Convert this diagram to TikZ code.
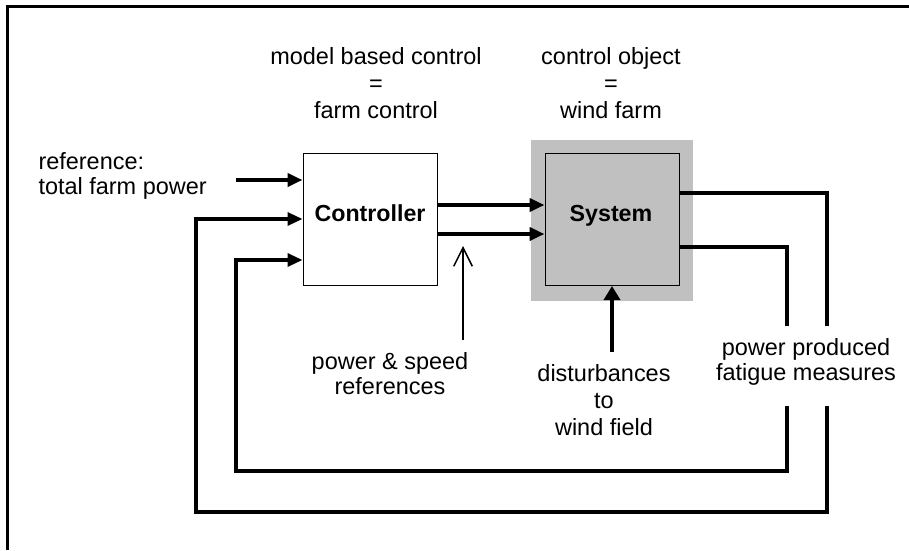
\documentclass[tikz,border=0pt]{standalone}
\usepackage{fontspec}
\setmainfont{Liberation Sans}
\usetikzlibrary{arrows.meta}

\definecolor{silver}{RGB}{192,192,192}

\tikzset{every picture/.style={line width=0.75pt}}
\tikzset{
  lbl/.style={inner sep=0pt, align=center, font=\fontsize{17.6pt}{18.75pt}\selectfont},
  toplbl/.style={lbl, font=\fontsize{17.6pt}{20.25pt}\selectfont},
  boldlbl/.style={inner sep=0pt, font=\fontsize{17.4pt}{18.75pt}\selectfont\bfseries},
  blockbox/.style={draw, minimum width=100.5pt, minimum height=99pt, inner sep=0pt},
  thickarrow/.style={line width=3pt, -{Triangle[length=11.25pt, width=9.75pt]}},
  fbline/.style={line width=2.4pt},
  fbarrow/.style={line width=2.4pt, -{Triangle[length=11.25pt, width=9.75pt]}},
  thinarrow/.style={line width=1.1pt, -{Straight Barb[length=14pt, width=14pt, line width=1.1pt]}}
}

\begin{document}
\begin{tikzpicture}[x=0.75pt,y=0.75pt,yscale=-1,xscale=1]
\useasboundingbox (0,0) rectangle (909,550);

%Frame
\draw [line width=2.25pt]  (7.5,550) -- (7.5,6.5) -- (909,6.5) ;

%Shape: Rectangle [background of system]
\node (sysbg) [fill=silver, minimum width=121.5pt, minimum height=120.75pt, inner sep=0pt] at (612,220.5) {};
%Shape: Rectangle
\node (ctrl) [blockbox, fill=white] at (370,219) {};
%Shape: Rectangle
\node (sys) [blockbox, fill=silver] at (612,219.5) {};

% Text Node
\node (ctrllbl) [boldlbl] at (370,213.6) {Controller};
% Text Node
\node (syslbl) [boldlbl] at (611,216.1) {System};
% Text Node
\node (mbc) [toplbl] at (376,82.7) {model based control\\=\\farm control};
% Text Node
\node (cobj) [toplbl] at (611,82.7) {control object\\=\\wind farm};
% Text Node
\node (refl) [lbl, anchor=west, align=left] at (38,175.6) {reference:\\total farm power};
% Text Node
\node (psr) [lbl] at (390,373.2) {power \& speed\\references};
% Text Node
\node (dst) [toplbl] at (604,399.7) {disturbances\\to\\wind field};
% Text Node
\node (meas) [lbl] at (806,361.6) {power produced\\fatigue measures};

\coordinate (refin) at (236,180);
\coordinate (ua) at (0,205);
\coordinate (ub) at (0,234);
\coordinate (ya) at (0,193);
\coordinate (yb) at (0,247);
\coordinate (fa1) at (827,326);
\coordinate (fa2) at (827,406);
\coordinate (fb1) at (787,326);
\coordinate (fb2) at (787,406);
\coordinate (la) at (196,512);
\coordinate (lb) at (236,471);
\coordinate (fbin) at (0,260);
\coordinate (dist) at (612,352);
\coordinate (pstail) at (463,340);
\coordinate (pstip) at (463,246);

%Straight Lines
\draw [thickarrow] (refin) -- (refin -| ctrl.west) ;
\draw [thickarrow] (ctrl.east |- ua) -- (sys.west |- ua) ;
\draw [thickarrow] (ctrl.east |- ub) -- (sys.west |- ub) ;
%Straight Lines
\draw [fbline] (sys.east |- ya) -| (fa1) ;
\draw [fbline] (sys.east |- yb) -| (fb1) ;
\draw [fbarrow] (fa2) |- (la) |- (ctrl.west) ;
\draw [fbarrow] (fb2) |- (lb) |- (ctrl.west |- fbin) ;
%Straight Lines
\draw [thickarrow, -{Triangle[length=10.5pt, width=12pt]}] (dist) -- (sys.south) ;
\draw [thinarrow] (pstail) -- (pstip) ;

\end{tikzpicture}
\end{document}
